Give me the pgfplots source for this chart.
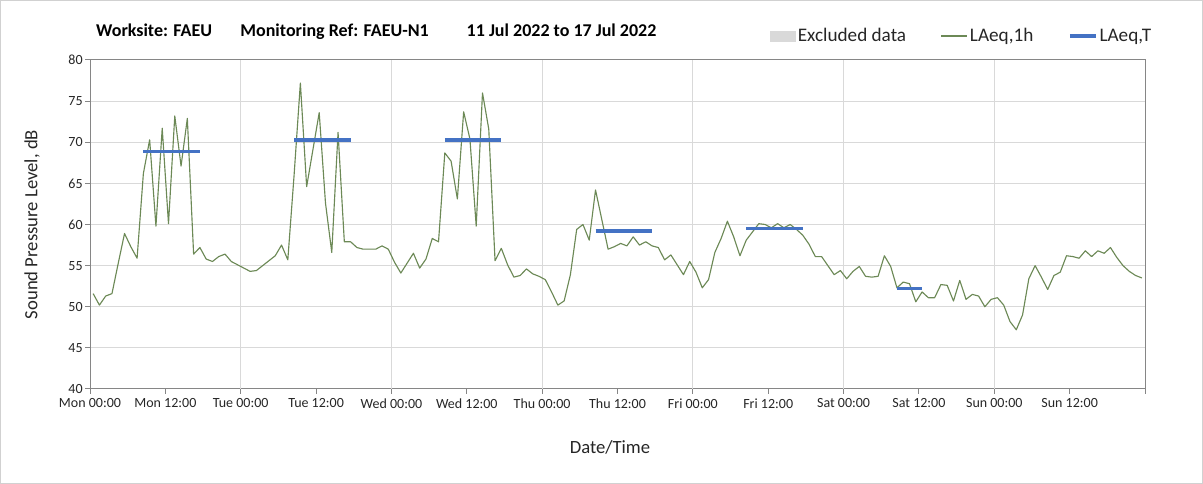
\documentclass[border=0pt]{standalone}
\usepackage{fontspec}
\setmainfont{Carlito}
\usepackage{pgfplots}
\pgfplotsset{compat=1.18}
\definecolor{olivel}{RGB}{108,137,86}
\definecolor{laeqT}{RGB}{68,114,196}
\definecolor{excl}{RGB}{217,217,217}
\definecolor{gridc}{RGB}{217,217,217}
\definecolor{axc}{RGB}{134,134,134}
\definecolor{txt}{RGB}{38,38,38}
\begin{document}
\begin{tikzpicture}[x=0.75pt,y=0.75pt]
\useasboundingbox (0,0) rectangle (1203,484);
\draw[draw=black!18, line width=0.75pt] (0.5,0.5) rectangle (1202.5,483.5);
\begin{axis}[
  at={(67.5pt,71.25pt)}, anchor=south west, scale only axis,
  width=791.25pt, height=246.75pt,
  xmin=0, xmax=168, ymin=40, ymax=80,
  xtick={0,12,...,168},
  xticklabels={Mon 00:00,Mon 12:00,Tue 00:00,Tue 12:00,Wed 00:00,Wed 12:00,Thu 00:00,Thu 12:00,Fri 00:00,Fri 12:00,Sat 00:00,Sat 12:00,Sun 00:00,Sun 12:00,{}},
  ytick={40,45,...,80},
  ymajorgrids,
  extra x ticks={24,48,72,96,120,144},
  extra x tick labels={},
  extra x tick style={grid=major, major tick length=0pt},
  grid style={draw=gridc, line width=0.75pt},
  axis line style={draw=axc, line width=0.75pt},
  tick style={draw=axc, line width=0.75pt},
  tick align=outside, tick pos=left,
  major tick length=3.5pt,
  /pgf/number format/assume math mode=true,
  tick label style={font=\fontsize{10.5}{12}\selectfont, text=txt},
  yticklabel style={xshift=1.5pt},
  xlabel={Date/Time},
  ylabel={Sound Pressure Level, dB},
  label style={font=\fontsize{14}{16}\selectfont, text=txt},
  xlabel style={at={(0.4929,-0.1763)}, anchor=center},
  ylabel style={at={(-0.055,0.5)}, anchor=center},
  legend columns=3,
  legend cell align=left,
  legend style={at={(0.6445,1.073)}, anchor=west, draw=none, fill=none,
    inner sep=0pt, font=\fontsize{14.4}{16}\selectfont, text=txt,
    nodes={inner xsep=1.5pt, inner ysep=0pt},
    /tikz/every even column/.append style={column sep=24.5pt}},
]
\addlegendimage{area legend, legend image code/.code={\fill[excl] (0pt,-3.75pt) rectangle (18.75pt,3.75pt);}}
\addlegendentry{Excluded data}
\addplot[olivel, line width=0.85pt, line join=round, mark=none,
  legend image code/.code={\draw[olivel, line width=0.85pt] (0pt,0pt) -- (19.5pt,0pt);}]
  table[x=h, y=v] {
h v
0.5 51.6
1.5 50.2
2.5 51.3
3.5 51.6
4.5 55.3
5.5 58.9
6.5 57.3
7.5 55.9
8.5 66.2
9.5 70.3
10.5 59.8
11.5 71.7
12.5 60.1
13.5 73.2
14.5 67.1
15.5 72.9
16.5 56.4
17.5 57.2
18.5 55.8
19.5 55.5
20.5 56.1
21.5 56.4
22.5 55.5
23.5 55.1
24.5 54.7
25.5 54.3
26.5 54.4
27.5 55.0
28.5 55.6
29.5 56.2
30.5 57.5
31.5 55.7
32.5 66.0
33.5 77.2
34.5 64.6
35.5 69.1
36.5 73.6
37.5 62.6
38.5 56.6
39.5 71.2
40.5 57.9
41.5 57.9
42.5 57.2
43.5 57.0
44.5 57.0
45.5 57.0
46.5 57.4
47.5 57.0
48.5 55.4
49.5 54.1
50.5 55.3
51.5 56.5
52.5 54.7
53.5 55.8
54.5 58.3
55.5 57.9
56.5 68.7
57.5 67.7
58.5 63.1
59.5 73.7
60.5 70.4
61.5 59.8
62.5 76.0
63.5 71.6
64.5 55.6
65.5 57.1
66.5 55.1
67.5 53.6
68.5 53.8
69.5 54.6
70.5 54.0
71.5 53.7
72.5 53.3
73.5 51.8
74.5 50.2
75.5 50.7
76.5 53.9
77.5 59.4
78.5 60.0
79.5 58.1
80.5 64.2
81.5 60.6
82.5 57.0
83.5 57.3
84.5 57.7
85.5 57.4
86.5 58.5
87.5 57.5
88.5 57.9
89.5 57.4
90.5 57.2
91.5 55.7
92.5 56.3
93.5 55.1
94.5 53.9
95.5 55.5
96.5 54.2
97.5 52.3
98.5 53.3
99.5 56.6
100.5 58.3
101.5 60.4
102.5 58.5
103.5 56.2
104.5 58.1
105.5 59.1
106.5 60.1
107.5 60.0
108.5 59.6
109.5 60.1
110.5 59.6
111.5 60.0
112.5 59.4
113.5 58.7
114.5 57.6
115.5 56.1
116.5 56.1
117.5 55.0
118.5 53.9
119.5 54.4
120.5 53.4
121.5 54.3
122.5 54.9
123.5 53.7
124.5 53.6
125.5 53.7
126.5 56.2
127.5 54.9
128.5 52.3
129.5 53.0
130.5 52.8
131.5 50.6
132.5 51.8
133.5 51.1
134.5 51.1
135.5 52.7
136.5 52.6
137.5 50.7
138.5 53.2
139.5 50.9
140.5 51.5
141.5 51.3
142.5 50.0
143.5 50.9
144.5 51.1
145.5 50.2
146.5 48.2
147.5 47.2
148.5 49.0
149.5 53.4
150.5 55.0
151.5 53.6
152.5 52.1
153.5 53.8
154.5 54.2
155.5 56.2
156.5 56.1
157.5 55.9
158.5 56.8
159.5 56.1
160.5 56.8
161.5 56.5
162.5 57.2
163.5 56.0
164.5 55.0
165.5 54.3
166.5 53.8
167.5 53.5
};
\addlegendentry{LAeq,1h}
\addplot[laeqT, line width=2.6pt, mark=none,
  legend image code/.code={\draw[laeqT, line width=2.6pt] (0pt,0pt) -- (19.5pt,0pt);}]
  coordinates {(8.5,68.9) (17.5,68.9)};
\addlegendentry{LAeq,T}
\addplot[laeqT, line width=2.6pt, mark=none, forget plot] coordinates {(32.5,70.3) (41.5,70.3)};
\addplot[laeqT, line width=2.6pt, mark=none, forget plot] coordinates {(56.5,70.3) (65.5,70.3)};
\addplot[laeqT, line width=2.6pt, mark=none, forget plot] coordinates {(80.5,59.2) (89.5,59.2)};
\addplot[laeqT, line width=2.6pt, mark=none, forget plot] coordinates {(104.5,59.5) (113.5,59.5)};
\addplot[laeqT, line width=2.6pt, mark=none, forget plot] coordinates {(128.5,52.2) (132.5,52.2)};
\end{axis}
\node[anchor=base west, font=\fontsize{13.5}{16}\selectfont\bfseries, text=black] at (91.5,447) {Worksite: FAEU};
\node[anchor=base west, font=\fontsize{13.5}{16}\selectfont\bfseries, text=black] at (235.7,447) {Monitoring Ref: FAEU-N1};
\node[anchor=base west, font=\fontsize{13.5}{16}\selectfont\bfseries, text=black] at (462,447) {11 Jul 2022 to 17 Jul 2022};
\end{tikzpicture}
\end{document}
